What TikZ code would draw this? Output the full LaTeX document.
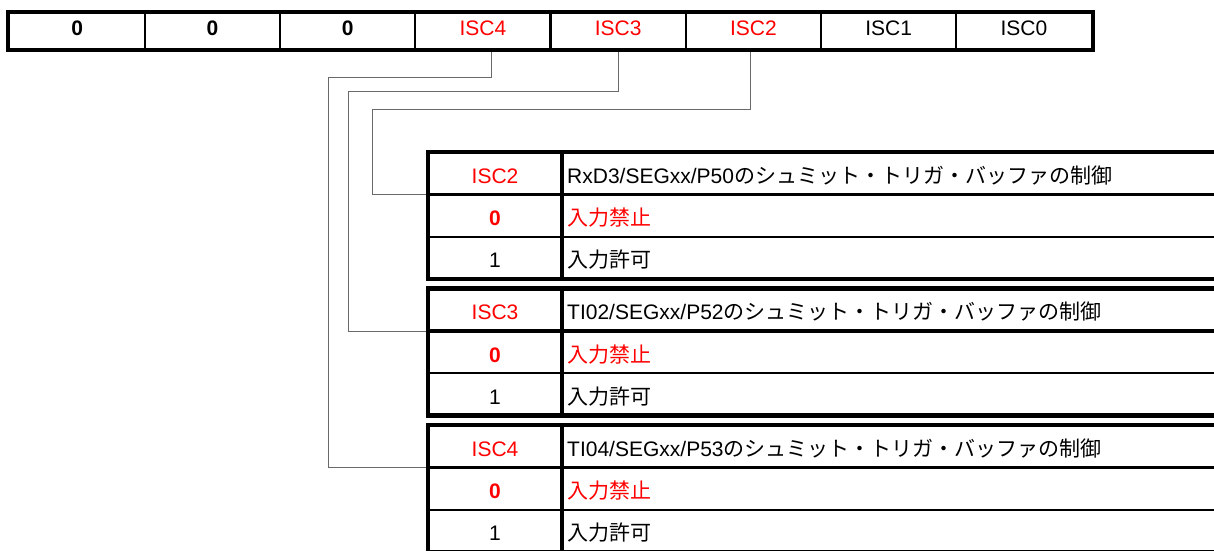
\documentclass[tikz,border=0pt]{standalone}
\usepackage{fontspec}
\setmainfont{Liberation Sans}
\newfontfamily\jpfont{Noto Sans CJK JP}
\usepackage{tikz}
\definecolor{iscred}{RGB}{255,0,0}
\definecolor{wiregray}{RGB}{105,105,105}

\begin{document}
\begin{tikzpicture}[x=1pt,y=-1pt]
  \tikzstyle{every node}=[font=\fontsize{21}{25}\selectfont, inner sep=0pt]
  \tikzstyle{bitcell}=[draw, line width=2pt, minimum width=135.25pt, minimum height=36pt, text height=15pt, text depth=6pt]
  \tikzstyle{keycell}=[minimum width=134pt, minimum height=42.33pt, text height=20pt, text depth=0pt]
  \tikzstyle{desctext}=[anchor=west, text height=20pt, text depth=0pt]
  \tikzstyle{wire}=[draw=wiregray, line width=1pt]
  \tikzstyle{tabframe}=[line width=4.5pt]
  \tikzstyle{tabrule}=[line width=3.5pt]
  \tikzstyle{tabsep}=[line width=2pt]
  \useasboundingbox (0,0) rectangle (1214,550);
  \clip (0,0) rectangle (1214,550);

  % register bits
  \node[bitcell] (b7) at (77.1,31) {\textbf{0}};
  \node[bitcell] (b6) at (212.4,31) {\textbf{0}};
  \node[bitcell] (b5) at (347.6,31) {\textbf{0}};
  \node[bitcell,text=iscred] (b4) at (482.9,31) {ISC4};
  \node[bitcell,text=iscred] (b3) at (618.1,31) {ISC3};
  \node[bitcell,text=iscred] (b2) at (753.4,31) {ISC2};
  \node[bitcell] (b1) at (888.6,31) {ISC1};
  \node[bitcell] (b0) at (1023.9,31) {ISC0};

  % ISC2
  \node[keycell,text=iscred] (h2) at (495,173.17) {ISC2};
  \node[desctext] (d2) at (567,173.17) {RxD3/SEGxx/P50{\jpfont のシュミット・トリガ・バッファの制御}};
  \node[keycell,text=iscred] (z2) at (495,215.5) {\textbf{0}};
  \node[desctext,text=iscred] (e2) at (567,215.5) {\jpfont 入力禁止};
  \node[keycell] (o2) at (495,257.83) {1};
  \node[desctext] (p2) at (567,257.83) {\jpfont 入力許可};

  % ISC3
  \node[keycell,text=iscred] (h3) at (495,309.67) {ISC3};
  \node[desctext] (d3) at (567,309.67) {TI02/SEGxx/P52{\jpfont のシュミット・トリガ・バッファの制御}};
  \node[keycell,text=iscred] (z3) at (495,352) {\textbf{0}};
  \node[desctext,text=iscred] (e3) at (567,352) {\jpfont 入力禁止};
  \node[keycell] (o3) at (495,394.33) {1};
  \node[desctext] (p3) at (567,394.33) {\jpfont 入力許可};

  % ISC4
  \node[keycell,text=iscred] (h4) at (495,446.17) {ISC4};
  \node[desctext] (d4) at (567,446.17) {TI04/SEGxx/P53{\jpfont のシュミット・トリガ・バッファの制御}};
  \node[keycell,text=iscred] (z4) at (495,488.5) {\textbf{0}};
  \node[desctext,text=iscred] (e4) at (567,488.5) {\jpfont 入力禁止};
  \node[keycell] (o4) at (495,530.83) {1};
  \node[desctext] (p4) at (567,530.83) {\jpfont 入力許可};

  \coordinate (k4) at (328,77);
  \coordinate (k3) at (348,91);
  \coordinate (k2) at (372,109);
  \draw[wire] ([xshift=9pt]b4.south) |- (k4) |- (h4.south west);
  \draw[wire] (b3.south) |- (k3) |- (h3.south west);
  \draw[wire] ([xshift=-2.5pt]b2.south) |- (k2) |- (h2.south west);

  \draw[line width=4pt] (b7.north west) rectangle (b0.south east);

  \draw[tabframe] (h2.north west) rectangle ++(812,127);
  \draw[tabrule] (h2.north east) -- (o2.south east);
  \draw[tabrule] (h2.south west) -- ++(812,0);
  \draw[tabsep] (z2.south west) -- ++(812,0);

  \draw[tabframe] (h3.north west) rectangle ++(812,127);
  \draw[tabrule] (h3.north east) -- (o3.south east);
  \draw[tabrule] (h3.south west) -- ++(812,0);
  \draw[tabsep] (z3.south west) -- ++(812,0);

  \draw[tabframe] (h4.north west) rectangle ++(812,127);
  \draw[tabrule] (h4.north east) -- (o4.south east);
  \draw[tabrule] (h4.south west) -- ++(812,0);
  \draw[tabsep] (z4.south west) -- ++(812,0);
\end{tikzpicture}
\end{document}
